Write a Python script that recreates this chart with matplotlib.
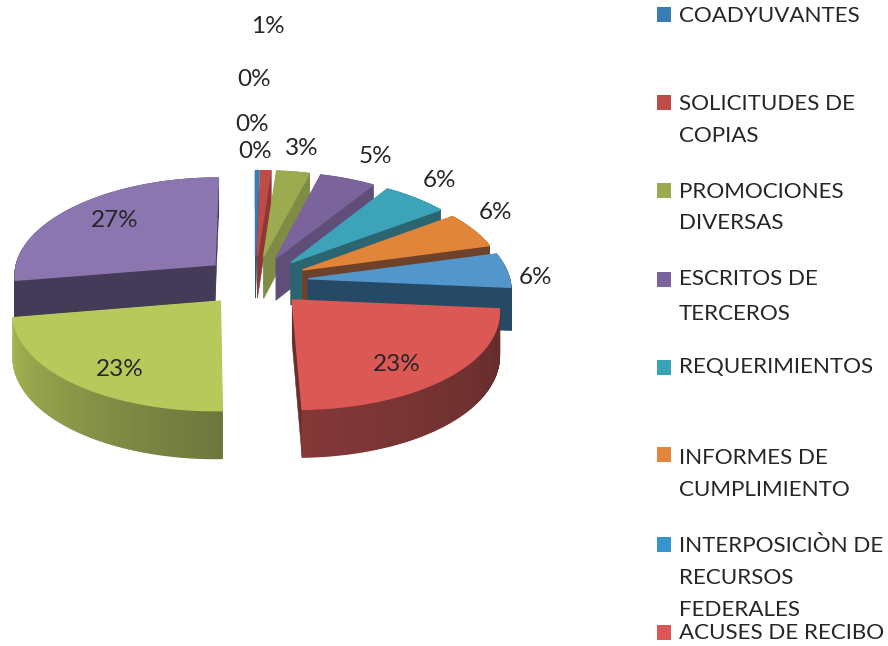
import numpy as np
import matplotlib
matplotlib.use('Agg')
import matplotlib.pyplot as plt
from matplotlib.patches import Polygon, Rectangle

plt.rcParams['font.family'] = ['Lato', 'DejaVu Sans']

# the last two slices have no legend entry in the picture (cut off)
categories = [['COADYUVANTES'], ['SOLICITUDES DE', 'COPIAS'], ['PROMOCIONES', 'DIVERSAS'],
              ['ESCRITOS DE', 'TERCEROS'], ['REQUERIMIENTOS'], ['INFORMES DE', 'CUMPLIMIENTO'],
              ['INTERPOSICIÒN DE', 'RECURSOS', 'FEDERALES'], ['ACUSES DE RECIBO']]
values = [0.3, 0.9, 2.9, 4.9, 5.8, 5.8, 5.6, 23.0, 22.6, 27.4]
pct_labels = ['1%', '0%', '0%', '0%', '3%', '5%', '6%', '6%', '6%', '23%', '23%', '27%']

top_colors = ['#3A7CB4', '#BE4B48', '#9CAB4F', '#7B639B', '#3DA3B9', '#E0853A', '#5296CB', '#DB5855', '#B8C95C', '#8C76B0']
wall_colors = ['#2B5C85', '#8E3735', '#7F8C45', '#5E4E78', '#2A6571', '#6E412B', '#264966', '#6B2E2C', '#A7B552', '#443B58']
arc_start = ['#2B5C85', '#8E3735', '#7F8C45', '#5E4E78', '#2A6571', '#6E412B', '#264966', '#622B2B', '#6C773C', '#443B58']
arc_end = ['#2B5C85', '#8E3735', '#7F8C45', '#5E4E78', '#2A6571', '#6E412B', '#264966', '#843838', '#A7B552', '#443B58']
legend_colors = ['#3A7CB4', '#BE4B48', '#9BAA4E', '#7B639B', '#3AA3B8', '#E0853A', '#3894CE', '#DA5755']

# layout, in pixels
cx, cy = 255, 281
radius = 208
explode = 55
squash = 0.465
persp = 0.085
persp_x = 0.1
depth = 43
draw_order = [0, 1, 2, 3, 4, 5, 6, 9, 8, 7]
pct_pos = [(268, 25), (254, 78), (252, 123), (255, 150), (302, 147), (375, 155),
           (439, 179), (495, 211), (535, 276), (397, 363), (120, 368), (115, 219)]
legend_first_baseline = [22, 110, 198, 285, 373, 464, 552, 639]
legend_marker_y = [14, 102, 190, 279, 367, 454, 544, 632]
legend_steps = [0, 32, 31, 35, 0, 32, 32, 0]
text_color = '#262626'


def project(x, y, z=0.0):
    s = 1 / (1 + persp * y / radius)
    sx = 1 / (1 + persp_x * (y / radius + 0.3))
    return cx + x * sx, cy - squash * y * s + z * s


def mix(c1, c2, t):
    a = np.array(matplotlib.colors.to_rgb(c1))
    b = np.array(matplotlib.colors.to_rgb(c2))
    return tuple(a + (b - a) * t)


fig = plt.figure(figsize=(8.88, 6.46), dpi=100)
ax = fig.add_axes([0, 0, 1, 1])
ax.set_xlim(0, 888)
ax.set_ylim(646, 0)
ax.axis('off')

edges = np.concatenate([[0], np.cumsum(values)]) / np.sum(values) * 2 * np.pi

for i in draw_order:
    t0, t1 = edges[i], edges[i + 1]
    mid = (t0 + t1) / 2
    ax0, ay0 = explode * np.sin(mid), explode * np.cos(mid)
    n = max(int((t1 - t0) * 60), 2)
    tt = np.linspace(t0, t1, n)
    xs = ax0 + radius * np.sin(tt)
    ys = ay0 + radius * np.cos(tt)

    # radial walls
    for tx, ty in [(xs[0], ys[0]), (xs[-1], ys[-1])]:
        wall = [project(ax0, ay0), project(tx, ty), project(tx, ty, depth), project(ax0, ay0, depth)]
        ax.add_patch(Polygon(wall, facecolor=wall_colors[i], edgecolor=wall_colors[i], linewidth=0.4))

    # outer wall, shaded along the arc
    for k in range(n - 1):
        quad = [project(xs[k], ys[k]), project(xs[k + 1], ys[k + 1]),
                project(xs[k + 1], ys[k + 1], depth), project(xs[k], ys[k], depth)]
        c = mix(arc_start[i], arc_end[i], k / max(n - 2, 1))
        ax.add_patch(Polygon(quad, facecolor=c, edgecolor=c, linewidth=0.9))

    # top face
    top = [project(ax0, ay0)] + [project(x, y) for x, y in zip(xs, ys)]
    ax.add_patch(Polygon(top, facecolor=top_colors[i], edgecolor=top_colors[i], linewidth=1.0))

for label, (x, y) in zip(pct_labels, pct_pos):
    ax.text(x, y + 1.5, label, fontsize=17.5, color=text_color, ha='center', va='center')

for lines, base, my, step, col in zip(categories, legend_first_baseline, legend_marker_y, legend_steps, legend_colors):
    ax.add_patch(Rectangle((657, my - 7.5), 14, 15, facecolor=col, edgecolor='none'))
    for j, line in enumerate(lines):
        ax.text(679, base + j * step, line, fontsize=16.1, color=text_color, ha='left', va='baseline')

fig.savefig('out.png', dpi=100)
